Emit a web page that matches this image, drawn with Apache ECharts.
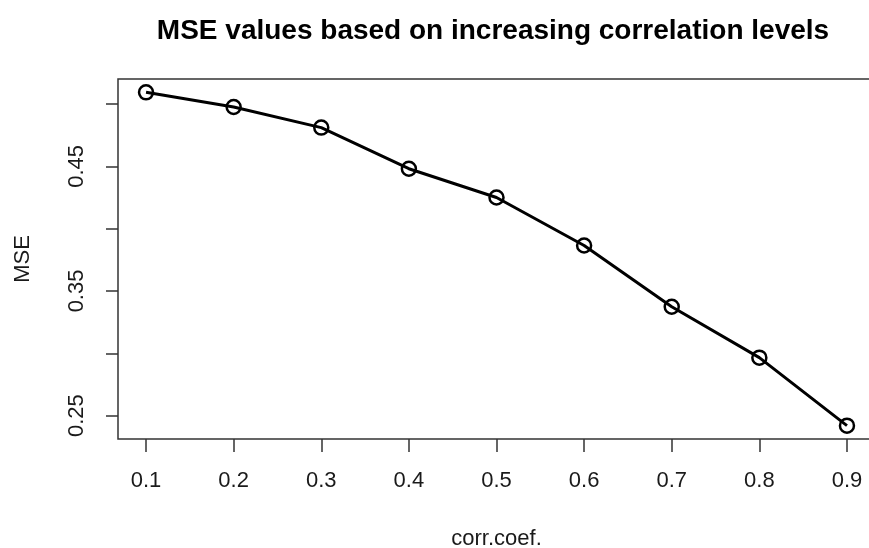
<!DOCTYPE html>
<html>
<head>
<meta charset="utf-8">
<script src="https://cdn.jsdelivr.net/npm/echarts@6/dist/echarts.min.js"></script>
<style>
  html, body { margin: 0; padding: 0; background: #fff; }
  #chart { width: 869px; height: 548px; }
</style>
</head>
<body>
<div id="chart"></div>
<script>
// data
const corrLevels = [0.1, 0.2, 0.3, 0.4, 0.5, 0.6, 0.7, 0.8, 0.9];
const mseValues = [0.5094, 0.4976, 0.4811, 0.4481, 0.425, 0.3865, 0.3373, 0.2965, 0.2419];
const xTicks = [0.1, 0.2, 0.3, 0.4, 0.5, 0.6, 0.7, 0.8, 0.9];
const yTicks = [0.25, 0.3, 0.35, 0.4, 0.45, 0.5];
const yTickLabels = [0.25, 0.35, 0.45];

const font = "'Liberation Sans', Arial, sans-serif";

const chart = echarts.init(document.getElementById("chart"));

const option = {
  animation: false,
  backgroundColor: "#fff",
  graphic: [
    {
      type: "text",
      x: 493,
      y: 31,
      style: {
        text: "MSE values based on increasing correlation levels",
        font: "bold 28px " + font,
        fill: "#000",
        align: "center",
        verticalAlign: "middle",
      },
    },
  ],
  grid: {
    left: 118,
    top: 79,
    right: -6,
    bottom: 109,
    show: true,
    borderColor: "#333",
    borderWidth: 1.5,
    outerBoundsMode: "none",
  },
  xAxis: {
    type: "value",
    min: 0.068,
    max: 0.932,
    name: "corr.coef.",
    nameLocation: "middle",
    nameGap: 89,
    nameTextStyle: { fontFamily: font, fontSize: 22, color: "#1a1a1a" },
    axisLine: { show: false },
    splitLine: { show: false },
    axisTick: {
      show: true,
      length: 13,
      customValues: xTicks,
      lineStyle: { color: "#333", width: 1.5 },
    },
    axisLabel: {
      customValues: xTicks,
      margin: 31,
      fontFamily: font,
      fontSize: 22,
      color: "#1a1a1a",
      formatter: (v) => v.toFixed(1),
    },
  },
  yAxis: {
    type: "value",
    min: 0.2312,
    max: 0.5201,
    name: "MSE",
    nameLocation: "middle",
    nameGap: 84,
    nameTextStyle: { fontFamily: font, fontSize: 22, color: "#1a1a1a" },
    axisLine: { show: false },
    splitLine: { show: false },
    axisTick: {
      show: true,
      length: 12,
      customValues: yTicks,
      lineStyle: { color: "#333", width: 1.5 },
    },
    axisLabel: {
      customValues: yTickLabels,
      rotate: 90,
      margin: 30,
      fontFamily: font,
      fontSize: 22,
      color: "#1a1a1a",
      formatter: (v) => v.toFixed(2),
    },
  },
  series: [
    {
      type: "line",
      data: corrLevels.map((c, i) => [c, mseValues[i]]),
      symbol: "circle",
      symbolSize: 14,
      showAllSymbol: true,
      lineStyle: { color: "#000", width: 3 },
      itemStyle: { color: "rgba(0,0,0,0)", borderColor: "#000", borderWidth: 2.5 },
      emphasis: { disabled: true },
    },
  ],
};

chart.setOption(option);
</script>
</body>
</html>
